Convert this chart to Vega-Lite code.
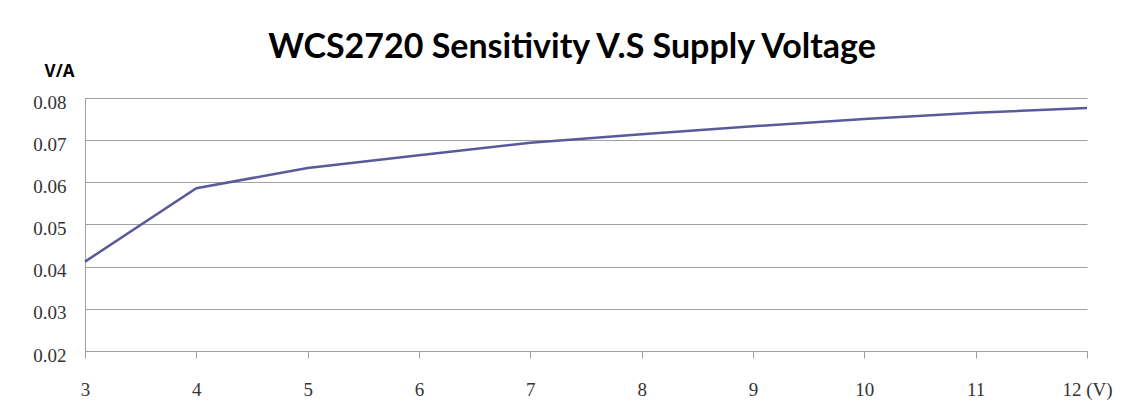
{
  "$schema": "https://vega.github.io/schema/vega-lite/v6.json",
  "autosize": {"type": "none"},
  "width": 1002,
  "height": 253,
  "padding": {"left": 85, "top": 98, "right": 47, "bottom": 52},
  "background": "white",
  "title": {
    "text": "WCS2720 Sensitivity V.S Supply Voltage",
    "font": "Lato",
    "fontSize": 34,
    "fontWeight": "bold",
    "color": "black",
    "anchor": "middle",
    "dx": -14,
    "offset": -3
  },
  "data": {
    "values": [
      {"v": 3, "s": 0.0412},
      {"v": 4, "s": 0.0586},
      {"v": 5, "s": 0.0634},
      {"v": 6, "s": 0.0664},
      {"v": 7, "s": 0.0694},
      {"v": 8, "s": 0.0714},
      {"v": 9, "s": 0.0733},
      {"v": 10, "s": 0.0750},
      {"v": 11, "s": 0.0765},
      {"v": 12, "s": 0.0776}
    ]
  },
  "mark": {"type": "line", "color": "#5a5a9a", "strokeWidth": 2.5},
  "encoding": {
    "x": {
      "field": "v",
      "type": "quantitative",
      "scale": {"domain": [3, 12], "nice": false, "zero": false},
      "axis": {
        "values": [3, 4, 5, 6, 7, 8, 9, 10, 11, 12],
        "labelExpr": "datum.value == 12 ? '12 (V)' : datum.label",
        "title": null,
        "grid": false,
        "domainColor": "#a0a0a0",
        "tickColor": "#a0a0a0",
        "tickSize": 7,
        "labelPadding": 22,
        "labelFont": "Liberation Serif",
        "labelFontSize": 19,
        "labelColor": "#333333",
        "labelFlush": false
      }
    },
    "y": {
      "field": "s",
      "type": "quantitative",
      "scale": {"domain": [0.02, 0.08], "nice": false, "zero": false},
      "axis": {
        "values": [0.02, 0.03, 0.04, 0.05, 0.06, 0.07, 0.08],
        "format": ".2f",
        "title": "V/A",
        "titleAngle": 0,
        "titleFont": "Open Sans",
        "titleFontSize": 17,
        "titleFontWeight": "bold",
        "titleColor": "black",
        "titleAlign": "center",
        "titleBaseline": "alphabetic",
        "titleX": -26,
        "titleY": -22,
        "ticks": false,
        "domainColor": "#a0a0a0",
        "gridColor": "#a0a0a0",
        "gridOpacity": 1,
        "labelPadding": 19,
        "labelOffset": 4,
        "labelFont": "Liberation Serif",
        "labelFontSize": 19,
        "labelColor": "#333333",
        "labelFlush": false
      }
    }
  },
  "config": {"view": {"stroke": null}}
}
